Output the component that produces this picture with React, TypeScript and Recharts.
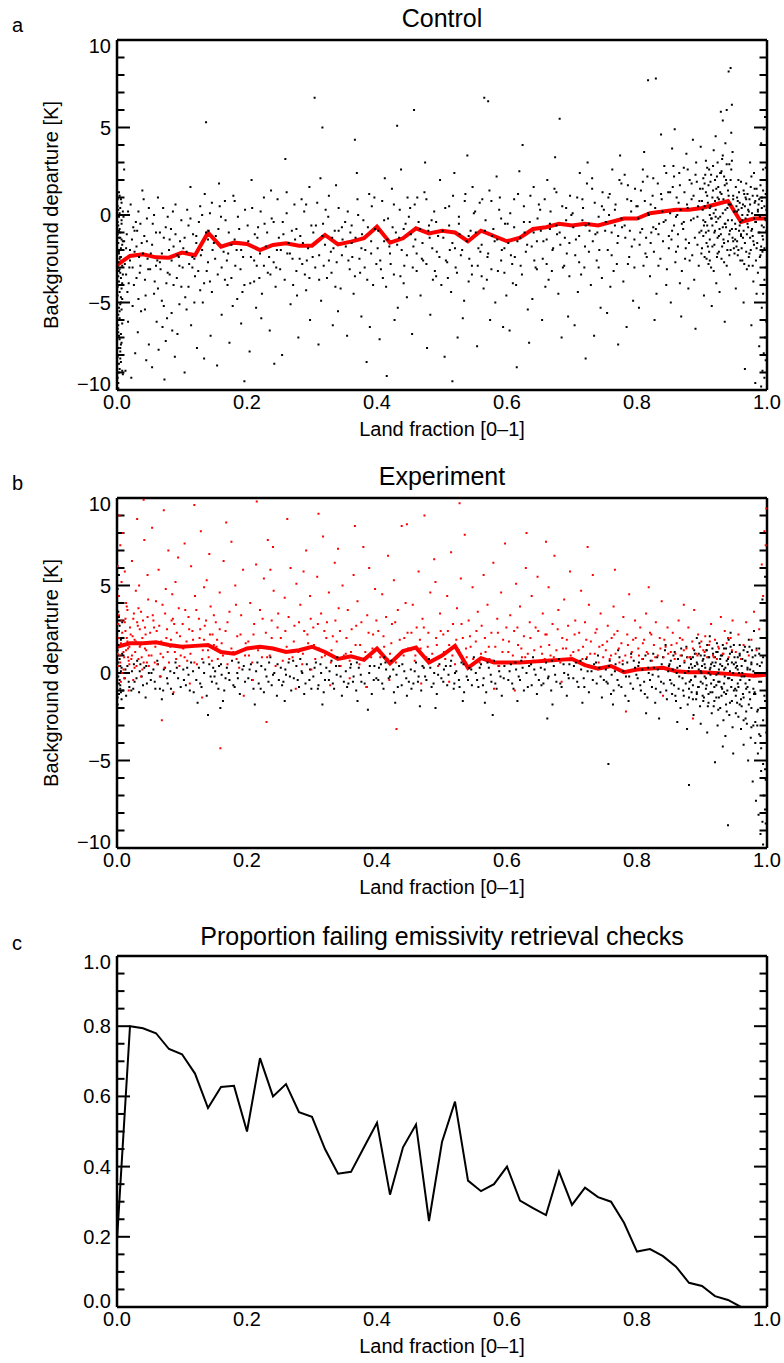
import React from "react";
import { ComposedChart, Scatter, Line, XAxis, YAxis, Label } from "recharts";

const FONT = "'Liberation Sans', Arial, Helvetica, sans-serif";

// land fraction bins (x) for the mean lines
const landBins = [0, 0.02, 0.04, 0.06, 0.08, 0.1, 0.12, 0.14, 0.16, 0.18, 0.2, 0.22, 0.24, 0.26, 0.28, 0.3, 0.32, 0.34, 0.36, 0.38, 0.4, 0.42, 0.44, 0.46, 0.48, 0.5, 0.52, 0.54, 0.56, 0.58, 0.6, 0.62, 0.64, 0.66, 0.68, 0.7, 0.72, 0.74, 0.76, 0.78, 0.8, 0.82, 0.84, 0.86, 0.88, 0.9, 0.92, 0.94, 0.96, 0.98, 1.0];

const controlMean = [-2.86, -2.34, -2.25, -2.42, -2.44, -2.15, -2.3, -1.01, -1.81, -1.58, -1.66, -2.0, -1.71, -1.62, -1.75, -1.75, -1.14, -1.68, -1.52, -1.33, -0.67, -1.58, -1.33, -0.76, -1.05, -0.9, -1.0, -1.5, -0.9, -1.2, -1.5, -1.3, -0.8, -0.7, -0.5, -0.6, -0.5, -0.6, -0.4, -0.2, -0.2, 0.1, 0.2, 0.3, 0.3, 0.4, 0.6, 0.8, -0.4, -0.2, -0.2];

const experimentMean = [1.5, 1.7, 1.7, 1.75, 1.6, 1.5, 1.55, 1.6, 1.2, 1.1, 1.4, 1.5, 1.4, 1.2, 1.3, 1.5, 1.2, 0.8, 0.95, 0.75, 1.4, 0.55, 1.25, 1.45, 0.6, 1.0, 1.55, 0.3, 0.85, 0.6, 0.6, 0.6, 0.65, 0.7, 0.75, 0.8, 0.45, 0.25, 0.4, 0.05, 0.2, 0.25, 0.3, 0.1, 0.05, 0.05, 0.0, -0.05, -0.1, -0.15, -0.1];

const failBins = [0, 0.02, 0.04, 0.06, 0.08, 0.1, 0.12, 0.14, 0.16, 0.18, 0.2, 0.22, 0.24, 0.26, 0.28, 0.3, 0.32, 0.34, 0.36, 0.38, 0.4, 0.42, 0.44, 0.46, 0.48, 0.5, 0.52, 0.54, 0.56, 0.58, 0.6, 0.62, 0.64, 0.66, 0.68, 0.7, 0.72, 0.74, 0.76, 0.78, 0.8, 0.82, 0.84, 0.86, 0.88, 0.9, 0.92, 0.94, 0.96];

const failFraction = [0.19, 0.8, 0.794, 0.78, 0.735, 0.72, 0.665, 0.567, 0.627, 0.63, 0.5, 0.709, 0.6, 0.635, 0.555, 0.542, 0.45, 0.38, 0.385, 0.455, 0.525, 0.32, 0.455, 0.52, 0.245, 0.47, 0.585, 0.36, 0.33, 0.35, 0.4, 0.303, 0.282, 0.262, 0.386, 0.291, 0.34, 0.313, 0.3, 0.24, 0.158, 0.165, 0.145, 0.115, 0.069, 0.06, 0.031, 0.02, 0.0];

// individual observations, control run (spread)
const controlDots: [number, number][] = [
  [0.002,-9.6],[0.004,-8.8],[0.001,-8.1],[0.006,-7.4],[0.003,-6.9],[0.008,-6.2],[0.002,-5.7],[0.005,-5.1],[0.001,-4.6],[0.007,-4.2],[0.003,-3.8],[0.009,-3.4],[0.004,-3.1],[0.002,-2.7],[0.006,-2.4],[0.001,-2.0],[0.008,-1.7],[0.003,-1.3],[0.005,-1.0],[0.002,-0.6],[0.007,-0.3],[0.004,0.1],[0.001,0.5],[0.006,0.9],[0.003,1.3],[0.009,-9.1],[0.005,-7.8],[0.001,-6.5],[0.007,-5.4],[0.004,-4.4],[0.002,-3.5],[0.008,-2.9],[0.006,-1.9],[0.003,-0.9],[0.010,-0.1],[0.005,0.4],[0.002,-9.9],[0.006,-8.4],[0.004,-7.1],[0.008,-6.0],[0.003,-2.2],[0.009,-1.5],[0.001,-0.4],[0.007,0.7],
  [0.012,-2.8],[0.015,-1.1],[0.018,-3.9],[0.021,0.6],[0.024,-5.2],[0.027,-2.1],[0.029,-0.4],[0.032,-6.7],[0.035,-3.3],[0.038,-1.6],[0.041,0.9],[0.044,-4.6],[0.047,-2.5],[0.049,-7.4],[0.013,-8.9],[0.017,-6.1],[0.022,-9.3],[0.026,-4.0],[0.031,-0.9],[0.036,-2.9],[0.039,1.4],[0.043,-3.7],[0.046,-0.2],[0.014,-1.9],[0.019,-3.0],[0.023,-1.4],[0.028,-7.9],[0.033,0.2],[0.037,-5.5],[0.042,-1.2],[0.048,-3.1],[0.016,-4.4],[0.025,-0.7],[0.034,-2.4],[0.045,-8.3],[0.011,2.6],[0.020,-2.6],[0.030,-3.6],
  [0.052,-2.2],[0.055,-0.5],[0.058,-3.8],[0.061,-6.1],[0.063,1.0],[0.066,-2.7],[0.069,-4.9],[0.072,-1.3],[0.075,-7.2],[0.078,-0.1],[0.081,-3.4],[0.084,-5.6],[0.087,-1.8],[0.090,0.6],[0.093,-6.8],[0.096,-2.9],[0.099,-4.1],[0.054,-8.7],[0.060,-1.0],[0.067,-3.1],[0.073,-9.4],[0.080,-2.0],[0.086,0.2],[0.092,-3.6],[0.097,-1.5],[0.057,-4.5],[0.064,-7.7],[0.071,0.4],[0.077,-5.9],[0.083,-0.8],[0.089,-8.1],[0.095,-2.4],[0.070,-6.4],[0.085,-6.6],[0.062,-2.6],[0.076,-3.9],
  [0.102,-1.9],[0.105,-4.7],[0.108,0.3],[0.111,-2.8],[0.114,-6.3],[0.117,-1.1],[0.120,-3.5],[0.123,-7.6],[0.126,-0.4],[0.129,-2.3],[0.132,-5.0],[0.135,1.2],[0.138,-3.2],[0.141,-0.9],[0.144,-6.9],[0.147,-2.0],[0.104,-9.0],[0.110,-0.6],[0.116,-3.0],[0.122,-1.6],[0.128,-4.3],[0.134,-8.2],[0.140,-1.4],[0.146,0.7],[0.107,-5.4],[0.119,-2.5],[0.131,0.0],[0.143,-3.8],[0.137,5.3],[0.113,1.6],
  [0.152,-1.2],[0.155,-3.4],[0.158,0.5],[0.161,-5.7],[0.164,-2.1],[0.167,-0.3],[0.170,-4.0],[0.173,-7.3],[0.176,-1.7],[0.179,1.1],[0.182,-2.9],[0.185,-4.8],[0.188,-0.8],[0.191,-6.2],[0.194,-2.4],[0.197,0.3],[0.154,-8.6],[0.160,-0.1],[0.166,-3.7],[0.172,-1.0],[0.178,-5.2],[0.184,-2.0],[0.190,-3.1],[0.196,-9.5],[0.157,1.8],[0.169,-2.6],[0.181,0.8],[0.193,-4.4],
  [0.202,-1.5],[0.205,-3.9],[0.208,0.4],[0.211,-2.6],[0.214,-5.3],[0.217,-0.7],[0.220,-2.2],[0.223,-4.5],[0.226,1.0],[0.229,-1.8],[0.232,-3.3],[0.235,-6.6],[0.238,-0.2],[0.241,-2.7],[0.244,-4.1],[0.247,0.9],[0.204,-7.8],[0.212,-1.1],[0.219,-3.6],[0.227,-0.5],[0.234,-2.4],[0.242,-8.5],[0.249,-1.3],[0.207,2.0],[0.222,-5.9],[0.237,1.4],[0.245,-3.0],[0.215,-2.9],
  [0.252,-2.0],[0.255,-0.4],[0.258,-3.7],[0.261,1.3],[0.264,-1.6],[0.267,-5.1],[0.270,-2.5],[0.273,0.6],[0.276,-3.2],[0.279,-7.0],[0.282,-1.2],[0.285,-2.8],[0.288,0.2],[0.291,-4.3],[0.294,-1.9],[0.297,-6.0],[0.254,-8.0],[0.262,-2.2],[0.269,-0.9],[0.277,-4.6],[0.284,0.9],[0.292,-2.6],[0.299,-0.6],[0.259,3.2],[0.274,-1.4],[0.289,-3.4],[0.296,1.6],
  [0.302,-1.0],[0.305,-3.0],[0.308,0.7],[0.311,-2.3],[0.314,-4.9],[0.317,-0.5],[0.320,-1.7],[0.323,-3.6],[0.326,1.1],[0.329,-2.1],[0.332,-6.3],[0.335,-0.9],[0.338,-2.7],[0.341,0.4],[0.344,-4.2],[0.347,-1.4],[0.304,6.7],[0.310,-7.4],[0.318,-2.9],[0.325,-0.1],[0.333,-1.9],[0.340,-5.5],[0.346,-0.7],[0.313,2.1],[0.330,-3.3],[0.337,1.7],[0.316,5.0],
  [0.352,-1.8],[0.355,0.2],[0.358,-3.1],[0.361,-0.6],[0.364,-4.5],[0.367,-1.3],[0.370,0.9],[0.373,-2.5],[0.376,-5.8],[0.379,-0.3],[0.382,-2.0],[0.385,-3.7],[0.388,1.2],[0.391,-1.5],[0.394,-4.0],[0.397,-0.8],[0.354,-6.9],[0.362,-2.4],[0.369,2.4],[0.377,-1.1],[0.384,-8.4],[0.392,0.5],[0.399,-2.8],[0.359,-1.0],[0.374,-3.3],[0.389,-6.4],[0.366,4.3],
  [0.402,-0.9],[0.405,-2.6],[0.408,0.8],[0.411,-1.5],[0.414,-4.1],[0.417,-0.2],[0.420,-2.2],[0.423,1.5],[0.426,-3.4],[0.429,-1.0],[0.432,-5.3],[0.435,0.3],[0.438,-2.0],[0.441,-3.9],[0.444,-0.5],[0.447,1.0],[0.404,-7.1],[0.412,2.1],[0.419,-1.8],[0.427,-6.0],[0.434,-1.3],[0.442,-2.9],[0.449,-0.1],[0.409,-3.6],[0.424,-0.7],[0.437,2.6],[0.446,-4.7],[0.431,5.1],[0.415,-9.2],
  [0.452,-1.1],[0.455,-3.0],[0.458,0.6],[0.461,-2.2],[0.464,-0.4],[0.467,-4.6],[0.470,-1.6],[0.473,1.3],[0.476,-2.8],[0.479,-0.9],[0.482,-5.7],[0.485,-1.9],[0.488,0.2],[0.491,-3.5],[0.494,-1.2],[0.497,2.0],[0.454,-6.8],[0.462,1.0],[0.469,-2.5],[0.477,-7.6],[0.484,-0.3],[0.492,-2.1],[0.499,-4.0],[0.459,-1.4],[0.474,3.0],[0.489,-3.2],[0.457,6.0],[0.480,-0.6],
  [0.502,-1.3],[0.505,0.4],[0.508,-2.7],[0.511,-0.6],[0.514,-4.4],[0.517,1.1],[0.520,-1.9],[0.523,-3.3],[0.526,-0.1],[0.529,-2.3],[0.532,-5.9],[0.535,0.8],[0.538,-1.5],[0.541,-3.8],[0.544,-0.9],[0.547,1.6],[0.504,-8.1],[0.512,-2.0],[0.519,2.4],[0.527,-1.1],[0.534,-4.9],[0.542,-2.5],[0.549,0.1],[0.509,-3.6],[0.524,-7.0],[0.539,3.4],[0.546,-2.9],[0.516,-9.5],
  [0.552,-1.0],[0.555,-2.9],[0.558,0.7],[0.561,-1.7],[0.564,-4.2],[0.567,-0.3],[0.570,-2.4],[0.573,1.4],[0.576,-3.1],[0.579,-0.8],[0.582,-5.0],[0.585,-1.4],[0.588,0.3],[0.591,-2.6],[0.594,-6.4],[0.597,-0.5],[0.554,-7.5],[0.562,0.9],[0.569,-3.7],[0.577,-1.2],[0.584,2.2],[0.592,-2.0],[0.599,-4.6],[0.559,-2.1],[0.574,-6.0],[0.589,1.0],[0.565,6.7],[0.571,6.5],[0.596,-3.3],
  [0.602,-1.6],[0.605,0.1],[0.608,-2.8],[0.611,-0.7],[0.614,-4.0],[0.617,1.2],[0.620,-1.3],[0.623,-3.4],[0.626,0.5],[0.629,-2.1],[0.632,-5.4],[0.635,-0.4],[0.638,-1.8],[0.641,1.6],[0.644,-3.0],[0.647,-0.2],[0.604,-6.6],[0.612,-2.4],[0.619,2.5],[0.627,-1.0],[0.634,-7.3],[0.642,-2.6],[0.649,0.6],[0.609,-3.9],[0.624,4.0],[0.639,-4.8],[0.646,-1.5],[0.615,-8.7],
  [0.652,-0.9],[0.655,-2.5],[0.658,0.9],[0.661,-1.4],[0.664,-3.7],[0.667,0.2],[0.670,-2.0],[0.673,1.5],[0.676,-0.6],[0.679,-4.5],[0.682,-1.7],[0.685,0.5],[0.688,-2.9],[0.691,-0.3],[0.694,-5.8],[0.697,1.1],[0.654,-6.0],[0.662,2.0],[0.669,-3.2],[0.677,-1.1],[0.684,-7.0],[0.692,-2.2],[0.699,0.0],[0.659,-4.1],[0.674,3.3],[0.689,-1.3],[0.696,-3.5],[0.666,-0.8],[0.681,5.5],
  [0.702,-0.7],[0.705,-2.3],[0.708,1.0],[0.711,-1.2],[0.714,-3.4],[0.717,0.4],[0.720,-1.8],[0.723,1.8],[0.726,-0.5],[0.729,-4.0],[0.732,-1.5],[0.735,0.7],[0.738,-2.6],[0.741,-0.1],[0.744,-5.3],[0.747,1.3],[0.704,-6.3],[0.712,2.4],[0.719,-3.0],[0.727,-0.9],[0.734,-6.9],[0.742,-2.0],[0.749,0.3],[0.709,-4.4],[0.724,3.0],[0.739,-1.0],[0.746,-3.6],[0.716,-0.3],[0.731,2.1],[0.721,-8.2],
  [0.752,-0.4],[0.755,-2.0],[0.758,1.2],[0.761,-1.0],[0.764,-3.2],[0.767,0.6],[0.770,-1.6],[0.773,2.0],[0.776,-0.2],[0.779,-3.8],[0.782,-1.3],[0.785,0.9],[0.788,-2.4],[0.791,0.2],[0.794,-4.9],[0.797,1.5],[0.754,-5.6],[0.762,2.6],[0.769,-2.8],[0.777,-0.7],[0.784,-6.4],[0.792,-1.8],[0.799,0.5],[0.759,-4.1],[0.774,3.4],[0.789,-0.9],[0.796,-3.0],[0.766,-0.6],[0.781,2.3],[0.771,-7.4],[0.786,1.7],[0.757,0.0],
  [0.802,-0.2],[0.804,-1.7],[0.806,1.4],[0.808,-0.8],[0.810,-2.9],[0.812,0.8],[0.814,-1.3],[0.816,2.2],[0.818,0.0],[0.820,-3.5],[0.822,-1.0],[0.824,1.1],[0.826,-2.1],[0.828,0.4],[0.830,-4.5],[0.832,1.8],[0.834,-0.5],[0.836,-2.5],[0.838,0.9],[0.840,-1.5],[0.842,2.8],[0.844,-0.3],[0.846,-3.1],[0.848,1.3],[0.803,-5.3],[0.809,2.6],[0.815,-2.4],[0.821,0.6],[0.827,-6.0],[0.833,-1.1],[0.839,0.2],[0.845,-4.0],[0.811,3.6],[0.825,-0.7],[0.837,4.6],[0.849,-1.9],[0.817,7.7],[0.829,7.8],
  [0.851,0.1],[0.853,-1.4],[0.855,1.6],[0.857,-0.6],[0.859,-2.7],[0.861,1.0],[0.863,-1.1],[0.865,2.4],[0.867,0.3],[0.869,-3.2],[0.871,-0.8],[0.873,1.3],[0.875,-1.9],[0.877,0.6],[0.879,-4.2],[0.881,2.0],[0.883,-0.3],[0.885,-2.3],[0.887,1.1],[0.889,-1.3],[0.891,3.0],[0.893,-0.1],[0.895,-2.9],[0.897,1.5],[0.899,-0.9],[0.852,-5.0],[0.856,2.8],[0.860,-2.1],[0.864,0.7],[0.868,-5.8],[0.872,-0.4],[0.876,3.5],[0.880,-1.6],[0.884,0.9],[0.888,-3.7],[0.892,1.9],[0.896,-1.0],[0.854,3.8],[0.866,-3.9],[0.878,2.6],[0.890,-6.5],[0.898,3.9],[0.862,0.0],[0.874,-2.5],[0.886,4.3],[0.894,0.5],[0.858,4.9],
  [0.901,0.3],[0.902,-1.2],[0.904,1.8],[0.905,-0.4],[0.907,-2.5],[0.908,1.1],[0.910,-0.9],[0.911,2.6],[0.913,0.5],[0.914,-3.0],[0.916,-0.6],[0.917,1.4],[0.919,-1.7],[0.920,0.8],[0.922,-3.9],[0.923,2.2],[0.925,-0.2],[0.926,-2.1],[0.928,1.3],[0.929,-1.1],[0.931,3.2],[0.932,0.1],[0.934,-2.7],[0.935,1.7],[0.937,-0.7],[0.938,2.9],[0.940,-1.5],[0.941,0.6],[0.943,-3.4],[0.944,2.0],[0.946,-0.3],[0.947,3.6],[0.949,-1.9],[0.903,-4.6],[0.906,3.1],[0.909,-1.8],[0.912,0.0],[0.915,-5.2],[0.918,3.7],[0.921,-0.1],[0.924,1.0],[0.927,-4.4],[0.930,2.5],[0.933,-1.4],[0.936,4.1],[0.939,0.4],[0.942,-2.3],[0.945,4.7],[0.948,0.9],[0.932,5.4],[0.938,6.0],[0.941,8.2],[0.944,8.4],[0.929,5.9],[0.946,6.3],[0.921,4.5],[0.935,-6.1],[0.912,-2.6],[0.924,-1.3],
  [0.951,-0.5],[0.953,-1.8],[0.955,0.8],[0.957,-0.9],[0.959,-2.6],[0.961,0.4],[0.963,-1.3],[0.965,1.2],[0.967,-0.2],[0.969,-3.1],[0.971,-0.7],[0.973,0.9],[0.975,-2.0],[0.977,0.1],[0.979,-3.8],[0.981,1.5],[0.983,-0.4],[0.985,-1.6],[0.987,0.6],[0.989,-2.4],[0.952,-4.2],[0.956,2.0],[0.960,-1.1],[0.964,-5.0],[0.968,1.8],[0.972,-2.9],[0.976,-6.3],[0.980,2.4],[0.984,-4.5],[0.988,-7.5],[0.954,0.2],[0.962,-0.3],[0.970,0.0],[0.978,-1.2],[0.986,0.3],[0.966,-8.8],[0.974,3.0],[0.982,-9.6],
  [0.991,-9.8],[0.993,-8.9],[0.995,-7.9],[0.997,-7.0],[0.999,-6.1],[0.992,-5.3],[0.994,-4.5],[0.996,-3.7],[0.998,-3.0],[1.0,-2.4],[0.991,-1.8],[0.993,-1.2],[0.995,-0.7],[0.997,-0.2],[0.999,0.3],[0.992,0.8],[0.994,1.4],[0.996,2.0],[0.998,2.7],[1.0,3.4],[0.991,4.1],[0.995,4.9],[0.997,5.6],[0.993,-2.1],[0.999,-0.9],[0.996,-9.3],[0.998,-8.3],[0.992,1.0],
];

// control run, observations in the dense core of the cloud
const controlCore: [number, number][] = [
  [0.011,-1.5],[0.014,-3.4],[0.017,0.2],[0.020,-2.0],[0.024,-3.0],[0.027,-0.9],[0.030,-1.8],[0.033,-4.8],[0.036,-0.5],[0.040,-2.2],[0.043,-5.4],[0.046,-1.5],[0.049,0.4],
  [0.051,-3.1],[0.054,-1.7],[0.057,0.0],[0.060,-2.9],[0.063,-4.2],[0.066,-1.0],[0.069,-2.2],[0.072,-5.2],[0.075,-0.7],[0.078,-3.3],[0.081,-1.4],[0.084,-2.6],[0.087,-4.0],[0.090,-1.1],[0.093,-2.3],[0.096,-5.1],[0.099,-0.3],
  [0.101,-3.0],[0.104,-1.3],[0.107,-2.1],[0.110,-4.1],[0.113,-0.2],[0.116,-2.4],[0.119,-5.0],[0.122,-1.2],[0.125,-3.2],[0.128,0.5],[0.131,-2.0],[0.134,-3.9],[0.137,-1.0],[0.140,-2.7],[0.143,0.1],[0.146,-4.4],[0.149,-1.6],
  [0.151,-2.5],[0.156,-0.8],[0.161,-3.0],[0.166,0.8],[0.171,-2.2],[0.176,-3.6],[0.181,-1.4],[0.186,-0.1],[0.191,-2.0],[0.196,-4.0],
  [0.201,-0.6],[0.206,-2.4],[0.211,-3.8],[0.216,-1.3],[0.221,0.2],[0.226,-2.9],[0.231,-1.0],[0.236,-3.4],[0.241,-0.4],[0.246,-2.0],
  [0.251,-3.1],[0.256,-1.1],[0.261,0.1],[0.266,-2.2],[0.271,-4.0],[0.276,-0.8],[0.281,-2.5],[0.286,-1.6],[0.291,0.6],[0.296,-3.6],
  [0.301,-2.4],[0.306,-0.6],[0.311,-3.7],[0.316,-1.2],[0.321,0.3],[0.326,-2.6],[0.331,-1.3],[0.336,-4.1],[0.341,-0.9],[0.346,-2.3],
  [0.351,-0.4],[0.356,-2.6],[0.361,-1.6],[0.366,-3.5],[0.371,0.0],[0.376,-1.9],[0.381,-3.0],[0.386,-0.7],[0.391,-2.2],[0.396,1.0],
  [0.401,-1.9],[0.406,-3.1],[0.411,-0.3],[0.416,-1.4],[0.421,-2.8],[0.426,0.6],[0.431,-1.7],[0.436,-3.5],[0.441,-0.8],[0.446,-2.3],
  [0.451,0.4],[0.456,-1.8],[0.461,-3.2],[0.466,-0.8],[0.471,-2.6],[0.476,0.9],[0.481,-1.3],[0.486,-3.7],[0.491,-0.4],[0.496,-2.4],
  [0.501,-0.9],[0.506,-2.6],[0.511,0.5],[0.516,-1.6],[0.521,-3.0],[0.526,-0.5],[0.531,-2.0],[0.536,1.2],[0.541,-1.2],[0.546,-3.4],
  [0.551,0.2],[0.556,-1.9],[0.561,-3.5],[0.566,-0.9],[0.571,-2.2],[0.576,0.8],[0.581,-1.5],[0.586,-3.2],[0.591,-0.2],[0.596,-1.9],
  [0.601,-0.5],[0.606,-2.3],[0.611,0.9],[0.616,-1.5],[0.621,-2.9],[0.626,-0.4],[0.631,-1.7],[0.636,1.1],[0.641,-1.0],[0.646,-3.1],
  [0.651,0.3],[0.656,-1.5],[0.661,-2.8],[0.666,-0.5],[0.671,-1.9],[0.676,1.3],[0.681,-1.0],[0.686,-3.0],[0.691,0.4],[0.696,-1.6],
  [0.701,0.1],[0.706,-1.4],[0.711,-2.7],[0.716,0.9],[0.721,-0.6],[0.726,-2.1],[0.731,1.5],[0.736,-1.1],[0.741,-3.0],[0.746,0.5],
  [0.751,-0.9],[0.756,1.0],[0.761,-2.3],[0.766,0.3],[0.771,-1.2],[0.776,1.8],[0.781,-0.6],[0.786,-2.8],[0.791,0.8],[0.796,-1.4],
  [0.801,0.5],[0.805,-1.0],[0.809,1.9],[0.813,-2.2],[0.817,0.1],[0.821,-1.6],[0.825,2.1],[0.829,-0.8],[0.833,-2.9],[0.837,1.2],[0.841,-0.4],[0.845,2.4],[0.849,-1.2],
  [0.851,1.3],[0.854,-0.9],[0.857,2.2],[0.860,-0.1],[0.863,-1.8],[0.866,1.7],[0.869,-0.5],[0.872,2.7],[0.875,-1.4],[0.878,0.4],[0.881,-2.6],[0.884,1.8],[0.887,-0.2],[0.890,2.3],[0.893,-1.7],[0.896,0.8],[0.899,-2.2],
  [0.901,1.5],[0.903,-0.6],[0.905,2.3],[0.907,-1.6],[0.909,0.7],[0.911,-2.1],[0.913,1.9],[0.915,-0.2],[0.917,2.8],[0.919,-1.0],[0.921,0.3],[0.923,-2.4],[0.925,1.6],[0.927,-0.8],[0.929,2.4],[0.931,-1.8],[0.933,0.9],[0.935,-0.5],[0.937,2.0],[0.939,-2.0],[0.941,1.1],[0.943,-0.9],[0.945,2.6],[0.947,-1.3],[0.949,0.2],
  [0.951,-1.4],[0.953,0.5],[0.955,-2.3],[0.957,1.3],[0.959,-0.4],[0.961,-1.9],[0.963,0.6],[0.965,-2.8],[0.967,1.0],[0.969,-1.1],[0.971,0.3],[0.973,-2.2],[0.975,1.6],[0.977,-0.8],[0.979,-1.5],[0.981,0.7],[0.983,-2.6],[0.985,1.1],[0.987,-1.0],[0.989,-0.1],
  [0.003,-5.3],[0.006,-3.6],[0.001,-1.1],[0.008,-4.8],[0.004,-2.5],[0.002,-7.6],[0.007,-1.4],[0.005,-3.3],[0.009,0.2],[0.003,-0.1],
];

// control run, the near-solid masses at the coast (x ~ 0) and over land (x > 0.9)
const controlBlob: [number, number][] = [
  [0.900,0.8],[0.900,-1.9],[0.902,-0.3],[0.902,2.1],[0.904,-2.4],[0.904,0.5],[0.906,1.3],[0.906,-1.0],[0.908,-0.6],[0.908,2.7],
  [0.910,1.7],[0.910,-2.8],[0.912,0.4],[0.912,-1.4],[0.914,2.3],[0.914,-0.2],[0.916,-1.8],[0.916,1.0],[0.918,0.1],[0.918,-3.2],
  [0.920,2.0],[0.920,-0.9],[0.922,-0.4],[0.922,1.5],[0.924,-2.2],[0.924,3.0],[0.926,0.9],[0.926,-1.2],[0.928,-0.1],[0.928,2.4],
  [0.930,1.2],[0.930,-2.5],[0.932,-0.7],[0.932,3.4],[0.934,2.2],[0.934,-1.6],[0.936,0.3],[0.936,-0.5],[0.938,-2.9],[0.938,1.8],
  [0.940,1.4],[0.940,-0.3],[0.942,-1.1],[0.942,2.9],[0.944,0.6],[0.944,-2.0],[0.946,3.1],[0.946,-0.8],[0.948,-1.5],[0.948,1.1],
  [0.950,0.2],[0.950,-2.2],[0.952,-0.8],[0.952,1.6],[0.954,1.0],[0.954,-1.5],[0.956,-2.0],[0.956,0.3],[0.958,0.7],[0.958,-0.6],
  [0.960,-1.2],[0.960,1.9],[0.962,0.0],[0.962,-2.6],[0.964,1.4],[0.964,-0.9],[0.966,-1.6],[0.966,0.5],[0.968,0.9],[0.968,-2.1],
  [0.970,-0.5],[0.970,1.2],[0.972,-2.4],[0.972,0.2],[0.974,0.6],[0.974,-1.3],[0.976,-0.9],[0.976,2.2],[0.978,1.1],[0.978,-2.9],
  [0.980,-0.2],[0.980,-1.7],[0.982,0.8],[0.982,-0.4],[0.984,-1.9],[0.984,1.5],[0.986,0.2],[0.986,-3.3],[0.988,-1.0],[0.988,0.9],
  [0.990,1.7],[0.990,-2.3],[0.992,-0.6],[0.992,0.4],[0.994,-1.4],[0.994,2.6],[0.996,0.5],[0.996,-1.9],[0.998,-0.3],[0.998,1.2],
  [0.001,-9.3],[0.003,-8.5],[0.005,-7.6],[0.002,-6.7],[0.004,-5.9],[0.006,-5.0],[0.001,-4.1],[0.003,-3.2],[0.005,-2.4],[0.002,-1.6],
  [0.004,-0.8],[0.006,0.0],[0.001,0.9],[0.003,-9.0],[0.005,-8.2],[0.007,-7.3],[0.002,-6.3],[0.004,-5.5],[0.006,-4.7],[0.008,-3.9],
  [0.001,-3.0],[0.003,-2.1],[0.005,-1.3],[0.007,-0.5],[0.002,0.3],[0.004,1.1],[0.006,-6.8],[0.008,-8.9],[0.000,-4.9],[0.000,-1.9],
];

// experiment run: observations passing the checks (black)
const experimentPass: [number, number][] = [
  [0.001,-1.8],[0.003,-1.2],[0.005,-0.7],[0.002,-0.2],[0.007,0.3],[0.004,0.8],[0.001,1.3],[0.006,1.9],[0.003,2.4],[0.008,2.9],[0.002,3.5],[0.005,4.0],[0.009,-1.0],[0.004,-0.4],[0.006,0.1],[0.002,0.6],[0.008,1.1],[0.001,4.8],[0.003,5.6],[0.005,-0.9],[0.007,-1.5],
  [0.012,-0.3],[0.016,0.4],[0.019,-0.8],[0.023,0.1],[0.027,-0.5],[0.031,0.7],[0.034,-1.1],[0.038,-0.2],[0.042,0.3],[0.046,-0.6],[0.049,0.0],[0.014,-1.3],[0.025,-0.9],[0.036,0.5],[0.044,-1.4],
  [0.052,-0.4],[0.056,0.2],[0.059,-0.9],[0.063,0.5],[0.067,-0.2],[0.071,-1.0],[0.074,0.3],[0.078,-0.6],[0.082,0.1],[0.086,-1.2],[0.090,0.6],[0.094,-0.3],[0.098,-0.8],[0.069,-1.5],[0.088,0.0],
  [0.102,0.2],[0.106,-0.7],[0.110,-0.1],[0.114,0.6],[0.118,-1.1],[0.122,-0.4],[0.126,0.3],[0.130,-0.8],[0.134,0.0],[0.138,-1.3],[0.142,0.5],[0.146,-0.5],[0.150,-0.2],[0.124,-1.7],[0.140,-2.4],
  [0.153,-0.6],[0.157,0.4],[0.161,-0.1],[0.165,-1.0],[0.169,0.3],[0.173,-0.4],[0.177,0.7],[0.181,-0.8],[0.185,0.0],[0.189,-1.2],[0.193,0.2],[0.197,-0.5],[0.163,-1.6],[0.187,0.6],[0.159,-2.0],
  [0.202,-0.3],[0.206,0.5],[0.210,-0.9],[0.214,0.1],[0.218,-0.6],[0.222,0.4],[0.226,-1.1],[0.230,-0.2],[0.234,0.6],[0.238,-0.7],[0.242,0.0],[0.246,-1.3],[0.212,-1.8],[0.236,0.9],[0.249,-0.4],
  [0.252,0.3],[0.256,-0.5],[0.260,-0.1],[0.264,0.6],[0.268,-1.0],[0.272,-0.3],[0.276,0.4],[0.280,-0.8],[0.284,0.1],[0.288,-1.2],[0.292,0.5],[0.296,-0.4],[0.258,-1.6],[0.282,0.8],[0.299,-0.9],
  [0.302,-0.2],[0.306,0.6],[0.310,-0.7],[0.314,0.0],[0.318,-1.1],[0.322,0.3],[0.326,-0.4],[0.330,0.7],[0.334,-0.9],[0.338,-0.1],[0.342,0.4],[0.346,-1.3],[0.316,-1.8],[0.339,0.9],[0.349,-0.5],
  [0.352,0.1],[0.356,-0.6],[0.360,0.5],[0.364,-0.2],[0.368,-1.0],[0.372,0.3],[0.376,-0.5],[0.380,0.8],[0.384,-0.8],[0.388,0.0],[0.392,-1.2],[0.396,0.4],[0.370,-1.6],[0.386,-2.1],[0.399,-0.3],
  [0.402,-0.4],[0.406,0.5],[0.410,-0.9],[0.414,0.2],[0.418,-0.3],[0.422,0.7],[0.426,-1.1],[0.430,-0.1],[0.434,0.4],[0.438,-0.7],[0.442,0.1],[0.446,-1.3],[0.428,-1.7],[0.411,0.9],[0.449,-0.5],
  [0.452,0.2],[0.456,-0.6],[0.460,0.6],[0.464,-0.2],[0.468,-1.0],[0.472,0.3],[0.476,-0.4],[0.480,0.8],[0.484,-0.8],[0.488,0.0],[0.492,-1.2],[0.496,0.5],[0.466,-1.9],[0.490,-2.0],[0.499,-0.3],
  [0.502,-0.5],[0.506,0.4],[0.510,-0.1],[0.514,0.7],[0.518,-0.9],[0.522,0.1],[0.526,-0.4],[0.530,0.6],[0.534,-1.1],[0.538,-0.2],[0.542,0.3],[0.546,-0.7],[0.532,-1.6],[0.549,0.9],[0.519,-0.6],
  [0.552,0.0],[0.556,-0.8],[0.560,0.5],[0.564,-0.3],[0.568,-1.1],[0.572,0.3],[0.576,-0.5],[0.580,0.7],[0.584,-0.9],[0.588,0.1],[0.592,-1.3],[0.596,0.4],[0.566,-1.7],[0.590,-0.2],[0.578,-2.4],
  [0.602,-0.4],[0.606,0.5],[0.610,-0.9],[0.614,0.2],[0.618,-0.2],[0.622,0.7],[0.626,-1.0],[0.630,0.0],[0.634,0.4],[0.638,-0.7],[0.642,0.2],[0.646,-1.2],[0.616,-1.6],[0.640,0.9],[0.649,-0.4],
  [0.652,0.3],[0.656,-0.6],[0.660,0.6],[0.664,-0.2],[0.668,-1.0],[0.672,0.4],[0.676,-0.5],[0.680,0.8],[0.684,-0.8],[0.688,0.0],[0.692,-1.3],[0.696,0.5],[0.670,-1.8],[0.694,-0.1],[0.662,-2.6],
  [0.702,-0.3],[0.706,0.6],[0.710,-0.8],[0.714,0.2],[0.718,-0.3],[0.722,0.8],[0.726,-1.1],[0.730,0.1],[0.734,0.5],[0.738,-0.6],[0.742,0.3],[0.746,-1.4],[0.716,-1.7],[0.740,1.0],[0.749,-0.4],
  [0.752,0.2],[0.755,-0.6],[0.758,0.7],[0.761,-0.1],[0.764,-1.0],[0.767,0.5],[0.770,-0.4],[0.773,0.9],[0.776,-0.8],[0.779,0.1],[0.782,-1.3],[0.785,0.6],[0.788,-0.2],[0.791,1.1],[0.794,-0.9],[0.797,0.3],[0.763,-1.8],[0.787,-1.6],[0.756,-5.2],[0.771,1.3],
  [0.801,-0.3],[0.803,0.6],[0.806,-1.0],[0.808,0.2],[0.811,-0.5],[0.813,1.0],[0.816,-1.4],[0.818,0.0],[0.821,0.7],[0.823,-0.8],[0.826,0.3],[0.828,-1.7],[0.831,0.9],[0.833,-0.2],[0.836,-1.1],[0.838,0.5],[0.841,-0.6],[0.843,1.3],[0.846,-1.5],[0.848,0.1],[0.814,-2.3],[0.834,-2.6],[0.844,1.6],[0.824,-0.1],
  [0.851,-0.4],[0.852,0.7],[0.854,-1.2],[0.855,0.2],[0.857,-0.7],[0.858,1.2],[0.860,-1.6],[0.861,0.0],[0.863,0.8],[0.864,-0.9],[0.866,0.4],[0.867,-2.0],[0.869,1.0],[0.870,-0.3],[0.872,-1.3],[0.873,0.6],[0.875,-0.6],[0.876,1.5],[0.878,-1.8],[0.879,0.1],[0.881,-0.5],[0.882,0.9],[0.884,-1.1],[0.885,0.3],[0.887,-2.4],[0.888,1.3],[0.890,-0.2],[0.891,-1.5],[0.893,0.5],[0.894,-0.8],[0.896,1.7],[0.897,-1.9],[0.899,0.0],[0.862,-2.8],[0.877,-3.2],[0.892,2.0],[0.880,-6.4],[0.898,-2.9],
  [0.901,-0.6],[0.902,0.8],[0.903,-1.4],[0.905,0.3],[0.906,-0.9],[0.907,1.3],[0.909,-1.9],[0.910,0.0],[0.911,0.9],[0.913,-1.1],[0.914,0.5],[0.915,-2.3],[0.917,1.1],[0.918,-0.4],[0.919,-1.6],[0.921,0.6],[0.922,-0.7],[0.923,1.7],[0.925,-2.1],[0.926,0.2],[0.927,-0.5],[0.929,1.0],[0.930,-1.3],[0.931,0.4],[0.933,-2.7],[0.934,1.4],[0.935,-0.2],[0.937,-1.8],[0.938,0.7],[0.939,-1.0],[0.941,1.9],[0.942,-2.4],[0.943,0.1],[0.945,-0.8],[0.946,1.2],[0.947,-3.1],[0.949,0.5],[0.908,-3.4],[0.924,-3.0],[0.936,-3.6],[0.944,2.3],[0.912,2.1],[0.932,-4.2],[0.948,-4.6],[0.920,-5.1],[0.940,-8.7],
  [0.951,-0.9],[0.952,0.6],[0.954,-1.7],[0.955,0.2],[0.956,-2.5],[0.958,1.0],[0.959,-0.4],[0.960,-3.2],[0.962,0.8],[0.963,-1.2],[0.964,-4.1],[0.966,1.5],[0.967,-0.6],[0.968,-2.2],[0.970,0.3],[0.971,-5.0],[0.972,1.9],[0.974,-1.5],[0.975,-3.7],[0.976,0.5],[0.978,-6.2],[0.979,-0.9],[0.980,2.4],[0.982,-2.8],[0.983,-7.3],[0.984,0.0],[0.986,-4.6],[0.987,-8.1],[0.988,1.1],[0.990,-9.2],[0.991,-5.6],[0.992,-2.0],[0.994,-9.8],[0.995,-7.0],[0.996,3.0],[0.998,-8.6],[0.999,-3.4],[1.0,-6.7],[0.993,4.2],[0.997,5.5],[0.953,-1.0],[0.957,0.0],[0.961,-1.9],[0.965,-0.2],[0.969,-2.9],[0.973,-0.4],[0.977,1.3],[0.981,-1.1],[0.985,-3.0],[0.989,0.4],
];

// experiment run, passing observations in the dense band near zero
const experimentPassCore: [number, number][] = [
  [0.013,0.2],[0.018,-0.5],[0.022,-1.0],[0.026,0.5],[0.030,-0.3],[0.035,0.1],[0.040,-0.7],[0.045,0.4],
  [0.053,0.0],[0.058,-0.5],[0.062,0.7],[0.066,-0.9],[0.072,0.2],[0.077,-0.3],[0.083,-0.9],[0.092,0.3],
  [0.103,-0.4],[0.108,0.3],[0.112,-1.0],[0.117,0.1],[0.128,-0.6],[0.133,0.6],[0.144,-0.2],[0.148,0.3],
  [0.151,0.1],[0.156,-0.9],[0.160,0.5],[0.167,-0.3],[0.172,0.0],[0.179,-0.7],[0.186,-0.3],[0.195,0.4],
  [0.204,0.2],[0.208,-0.4],[0.216,0.6],[0.221,-0.9],[0.228,0.2],[0.233,-0.5],[0.240,-0.1],[0.247,0.5],
  [0.254,-0.7],[0.259,0.2],[0.266,-0.2],[0.271,0.7],[0.278,-0.4],[0.285,0.0],[0.290,-0.6],[0.297,0.2],
  [0.304,0.3],[0.309,-0.9],[0.313,0.5],[0.320,-0.4],[0.327,0.1],[0.332,-0.6],[0.337,0.4],[0.344,-0.2],
  [0.354,-0.8],[0.359,0.3],[0.363,-0.5],[0.369,0.6],[0.375,-0.1],[0.381,-0.6],[0.389,0.4],[0.395,-0.4],
  [0.403,0.3],[0.408,-0.6],[0.413,0.6],[0.420,-0.2],[0.425,0.2],[0.432,-0.8],[0.439,0.5],[0.445,-0.3],
  [0.453,-0.9],[0.458,0.1],[0.463,-0.5],[0.470,0.4],[0.474,-0.2],[0.482,0.3],[0.487,-0.6],[0.494,-0.1],
  [0.503,0.2],[0.508,-0.7],[0.513,0.4],[0.520,0.0],[0.527,-0.8],[0.533,0.5],[0.540,-0.4],[0.545,0.2],
  [0.554,-0.4],[0.558,0.3],[0.563,-0.7],[0.570,0.6],[0.575,-0.1],[0.582,-0.6],[0.587,0.4],[0.595,-0.3],
  [0.604,0.1],[0.608,-0.6],[0.613,0.6],[0.620,-0.4],[0.624,0.3],[0.632,-0.8],[0.637,0.5],[0.644,-0.1],
  [0.653,-0.7],[0.658,0.2],[0.663,-0.3],[0.669,0.7],[0.674,-0.1],[0.682,-0.6],[0.687,0.5],[0.695,-0.3],
  [0.703,0.4],[0.708,-0.5],[0.713,0.7],[0.719,-0.8],[0.724,0.1],[0.732,-0.4],[0.737,0.6],[0.744,-0.2],
  [0.753,-0.5],[0.757,0.4],[0.760,-1.2],[0.766,0.1],[0.772,-0.7],[0.778,0.5],[0.783,-0.2],[0.790,-0.6],[0.795,0.7],[0.799,-0.1],
  [0.802,0.4],[0.805,-0.7],[0.809,0.8],[0.812,-1.2],[0.817,0.3],[0.820,-0.4],[0.825,1.1],[0.829,-0.9],[0.832,0.2],[0.837,-0.5],[0.840,0.9],[0.845,-1.0],[0.849,0.4],
  [0.850,0.5],[0.853,-0.6],[0.856,1.0],[0.859,-1.3],[0.862,0.3],[0.865,-0.2],[0.868,1.4],[0.871,-1.0],[0.874,0.0],[0.877,0.9],[0.880,-1.4],[0.883,0.5],[0.886,-0.7],[0.889,1.1],[0.892,-1.1],[0.895,0.2],[0.898,1.0],
  [0.900,0.4],[0.902,-1.6],[0.904,1.0],[0.906,-0.3],[0.908,1.6],[0.910,-1.2],[0.912,0.2],[0.914,-0.6],[0.916,1.4],[0.918,-1.9],[0.920,0.9],[0.922,-0.1],[0.924,1.2],[0.926,-1.4],[0.928,0.5],[0.930,-0.8],[0.932,1.6],[0.934,-1.1],[0.936,0.3],[0.938,-2.2],[0.940,0.8],[0.942,-0.3],[0.944,1.5],[0.946,-1.6],[0.948,0.0],
  [0.950,0.9],[0.952,-1.3],[0.954,0.4],[0.956,-0.8],[0.958,1.6],[0.960,-1.5],[0.962,0.0],[0.964,-2.7],[0.966,0.7],[0.968,-0.9],[0.970,1.2],[0.972,-1.8],[0.974,0.2],[0.976,-3.1],[0.978,0.9],[0.980,-1.2],[0.982,-4.0],[0.984,1.4],[0.986,-2.1],[0.988,-0.5],[0.990,-3.6],[0.992,0.6],[0.994,-5.2],[0.996,-1.3],[0.998,-6.1],[1.0,-2.9],[1.0,-9.5],[0.997,-7.8],[0.993,-8.5],
];

// experiment run, passing observations in the near-solid mass over land and at the coast
const experimentPassBlob: [number, number][] = [
  [0.880,0.3],[0.880,-0.9],[0.883,-0.4],[0.883,0.8],[0.886,0.9],[0.886,-1.5],[0.889,-0.2],[0.889,0.4],[0.892,0.6],[0.892,-1.2],
  [0.895,-0.8],[0.895,1.1],[0.898,0.1],[0.898,-0.5],[0.901,-1.3],[0.901,0.7],[0.904,0.5],[0.904,-0.2],[0.907,-0.7],[0.907,1.3],
  [0.910,0.9],[0.910,-1.7],[0.913,-0.1],[0.913,0.3],[0.916,-1.1],[0.916,0.6],[0.919,0.4],[0.919,-0.8],[0.922,1.2],[0.922,-1.4],
  [0.925,-0.5],[0.925,0.0],[0.928,0.8],[0.928,-2.0],[0.931,-0.9],[0.931,1.0],[0.934,0.2],[0.934,-0.6],[0.937,1.4],[0.937,-1.2],
  [0.940,-0.3],[0.940,0.5],[0.943,-1.7],[0.943,1.1],[0.946,0.6],[0.946,-0.4],[0.949,-1.0],[0.949,1.6],[0.952,0.3],[0.952,-2.3],
  [0.955,-0.6],[0.955,0.9],[0.958,1.1],[0.958,-1.8],[0.961,-0.2],[0.961,0.4],[0.964,-1.4],[0.964,1.3],[0.967,0.7],[0.967,-2.6],
  [0.970,-0.8],[0.970,0.2],[0.973,1.5],[0.973,-1.1],[0.976,-2.0],[0.976,0.6],[0.979,0.1],[0.979,-3.0],[0.982,-1.2],[0.982,1.0],
  [0.985,0.5],[0.985,-2.2],[0.988,-3.5],[0.988,1.4],[0.991,-0.5],[0.991,-4.3],[0.994,0.9],[0.994,-2.7],[0.997,-1.6],[0.997,-5.5],
  [1.0,0.3],[1.0,-3.9],
  [0.001,-1.4],[0.003,-0.6],[0.005,0.4],[0.002,1.6],[0.004,2.7],[0.006,-1.1],[0.001,0.0],[0.003,3.2],[0.000,1.0],[0.000,-0.3],
];

// experiment run: observations failing the emissivity checks (red)
const experimentFail: [number, number][] = [
  [0.002,0.4],[0.004,1.0],[0.006,1.7],[0.008,2.3],[0.010,0.2],[0.012,2.9],[0.014,1.3],[0.016,3.6],[0.018,0.7],[0.003,4.4],[0.007,5.2],[0.011,-0.3],[0.015,2.0],[0.019,1.5],[0.001,6.1],[0.005,7.3],[0.009,8.0],[0.013,3.1],[0.017,0.9],[0.020,2.6],[0.002,2.8],[0.006,-0.5],[0.010,1.2],[0.014,4.0],[0.018,-1.0],[0.004,9.0],[0.008,0.0],[0.012,5.8],[0.016,1.8],[0.003,3.3],
  [0.022,0.8],[0.024,2.1],[0.026,3.4],[0.028,1.2],[0.030,0.4],[0.032,2.7],[0.034,5.0],[0.036,1.6],[0.038,0.9],[0.040,3.0],[0.042,7.6],[0.044,2.2],[0.046,0.6],[0.048,4.2],[0.023,6.4],[0.027,1.9],[0.031,8.8],[0.035,2.5],[0.039,0.2],[0.043,1.4],[0.047,5.6],[0.025,-0.4],[0.033,3.7],[0.041,9.9],[0.049,1.0],[0.029,4.7],[0.037,-0.2],
  [0.052,1.7],[0.055,3.3],[0.058,0.6],[0.061,2.4],[0.064,5.9],[0.067,1.1],[0.070,3.9],[0.073,0.3],[0.076,2.0],[0.079,7.0],[0.082,1.5],[0.085,4.5],[0.088,2.8],[0.091,0.8],[0.094,6.6],[0.097,2.1],[0.054,8.3],[0.060,4.1],[0.066,-0.2],[0.072,9.3],[0.078,1.2],[0.084,3.0],[0.090,5.2],[0.096,0.4],[0.069,-2.7],[0.057,2.6],[0.075,4.8],[0.087,-1.1],
  [0.102,1.4],[0.105,3.6],[0.108,0.7],[0.111,2.5],[0.114,6.1],[0.117,1.9],[0.120,4.4],[0.123,0.5],[0.126,3.1],[0.129,8.1],[0.132,1.3],[0.135,2.7],[0.138,5.3],[0.141,0.9],[0.144,3.8],[0.147,2.2],[0.104,7.4],[0.112,-0.6],[0.119,9.6],[0.127,2.0],[0.134,4.9],[0.142,6.8],[0.149,1.6],[0.131,-1.4],
  [0.152,2.9],[0.155,0.8],[0.158,4.6],[0.161,1.7],[0.164,6.4],[0.167,2.4],[0.170,0.5],[0.173,3.5],[0.176,7.5],[0.179,1.2],[0.182,5.0],[0.185,2.1],[0.188,0.3],[0.191,3.3],[0.194,5.9],[0.197,1.0],[0.159,-4.3],[0.168,8.6],[0.183,3.9],[0.195,-1.3],[0.154,1.9],
  [0.202,1.8],[0.205,4.0],[0.208,0.6],[0.211,2.8],[0.214,6.2],[0.217,1.3],[0.220,3.6],[0.223,0.9],[0.226,5.4],[0.229,2.3],[0.232,7.6],[0.235,1.0],[0.238,3.0],[0.241,4.7],[0.244,0.4],[0.247,2.6],[0.215,9.8],[0.230,-2.8],[0.240,7.2],[0.209,-0.4],[0.236,5.9],
  [0.252,2.0],[0.255,0.7],[0.258,4.3],[0.261,1.5],[0.264,3.2],[0.267,6.0],[0.270,0.9],[0.273,2.7],[0.276,5.1],[0.279,1.2],[0.282,3.9],[0.285,0.5],[0.288,2.4],[0.291,7.0],[0.294,1.7],[0.297,4.4],[0.262,8.8],[0.275,-0.9],[0.287,5.8],[0.299,0.2],
  [0.302,2.6],[0.305,0.8],[0.308,5.5],[0.311,1.4],[0.314,3.4],[0.317,7.8],[0.320,1.0],[0.323,2.9],[0.326,4.6],[0.329,0.6],[0.332,2.1],[0.335,6.3],[0.338,1.8],[0.341,3.7],[0.344,0.4],[0.347,5.0],[0.310,9.1],[0.328,-0.7],[0.340,7.1],[0.319,2.4],
  [0.352,1.1],[0.355,3.6],[0.358,0.7],[0.361,2.5],[0.364,5.6],[0.367,1.6],[0.370,4.1],[0.373,0.5],[0.376,2.9],[0.379,7.2],[0.382,1.2],[0.385,3.3],[0.388,6.0],[0.391,0.9],[0.394,2.2],[0.397,4.8],[0.366,8.4],[0.384,-0.8],[0.358,-0.3],
  [0.402,2.4],[0.405,0.9],[0.408,4.5],[0.411,1.5],[0.414,3.2],[0.417,6.7],[0.420,1.1],[0.423,2.8],[0.426,5.3],[0.429,0.6],[0.432,3.6],[0.435,1.9],[0.438,8.4],[0.441,1.0],[0.444,4.0],[0.447,2.3],[0.446,8.5],[0.430,-3.2],[0.419,-0.4],
  [0.452,1.3],[0.455,3.9],[0.458,0.7],[0.461,2.6],[0.464,5.8],[0.467,1.4],[0.470,3.1],[0.473,9.0],[0.476,0.9],[0.479,2.3],[0.482,4.6],[0.485,1.1],[0.488,6.5],[0.491,2.0],[0.494,0.4],[0.497,3.4],[0.468,-0.6],[0.490,5.2],
  [0.502,2.2],[0.505,0.8],[0.508,4.4],[0.511,1.6],[0.514,6.9],[0.517,2.8],[0.520,0.5],[0.523,3.7],[0.526,1.3],[0.529,5.4],[0.532,2.0],[0.535,7.9],[0.538,0.9],[0.541,3.0],[0.544,1.5],[0.547,4.9],[0.527,9.7],[0.511,-0.5],
  [0.552,1.8],[0.555,3.5],[0.558,0.6],[0.561,2.7],[0.564,5.6],[0.567,1.2],[0.570,3.9],[0.573,0.8],[0.576,2.3],[0.579,6.3],[0.582,1.5],[0.585,3.1],[0.588,0.4],[0.591,4.6],[0.594,1.9],[0.597,7.4],[0.580,-0.9],
  [0.602,1.2],[0.605,3.3],[0.608,0.6],[0.611,2.4],[0.614,5.1],[0.617,1.6],[0.620,3.8],[0.623,0.9],[0.626,2.1],[0.629,6.0],[0.632,1.1],[0.635,2.9],[0.638,4.4],[0.641,0.7],[0.644,2.6],[0.647,5.5],[0.630,8.0],[0.612,-1.0],
  [0.652,1.5],[0.655,3.4],[0.658,0.8],[0.661,2.2],[0.664,4.9],[0.667,1.0],[0.670,2.8],[0.673,6.7],[0.676,1.3],[0.679,3.6],[0.682,0.6],[0.685,2.0],[0.688,4.2],[0.691,1.4],[0.694,2.7],[0.697,5.8],[0.660,7.5],[0.684,-0.5],
  [0.702,1.2],[0.705,3.0],[0.708,0.7],[0.711,2.3],[0.714,4.7],[0.717,1.5],[0.720,2.9],[0.723,0.9],[0.726,3.9],[0.729,1.8],[0.732,5.6],[0.735,1.1],[0.738,2.5],[0.741,0.6],[0.744,3.4],[0.747,1.6],[0.724,7.2],
  [0.752,1.3],[0.755,2.7],[0.758,0.8],[0.761,2.0],[0.764,3.8],[0.767,1.1],[0.770,2.4],[0.773,0.6],[0.776,1.7],[0.779,3.2],[0.782,1.0],[0.785,2.2],[0.788,4.5],[0.791,0.9],[0.794,1.9],[0.797,3.0],[0.766,5.9],[0.783,-2.2],
  [0.802,1.4],[0.805,2.6],[0.808,0.8],[0.811,1.9],[0.814,3.4],[0.817,1.1],[0.820,2.3],[0.823,0.7],[0.826,1.6],[0.829,2.9],[0.832,1.0],[0.835,2.0],[0.838,4.1],[0.841,0.9],[0.844,1.5],[0.847,2.6],[0.818,4.9],[0.840,-1.3],
  [0.852,1.2],[0.855,2.3],[0.858,0.8],[0.861,1.7],[0.864,3.0],[0.867,1.0],[0.870,1.9],[0.873,0.7],[0.876,1.4],[0.879,2.6],[0.882,0.9],[0.885,1.8],[0.888,3.6],[0.891,1.1],[0.894,2.2],[0.897,1.5],[0.872,3.9],[0.886,-2.6],
  [0.902,1.3],[0.905,2.1],[0.908,0.9],[0.911,1.6],[0.914,2.8],[0.917,1.0],[0.920,1.9],[0.923,0.8],[0.926,1.4],[0.929,3.2],[0.932,1.1],[0.935,2.4],[0.938,1.7],[0.941,0.9],[0.944,2.0],[0.947,3.0],
  [0.952,1.2],[0.956,2.2],[0.960,0.8],[0.964,1.6],[0.968,2.9],[0.972,1.0],[0.976,1.9],[0.980,3.5],[0.984,1.3],[0.988,2.5],[0.992,6.2],[0.996,8.1],[0.999,9.4],[0.994,4.4],[0.998,7.3],
];

// experiment run, failing observations in the dense part just above zero
const experimentFailCore: [number, number][] = [
  [0.001,1.1],[0.003,2.0],[0.005,0.6],[0.007,3.0],[0.009,1.6],[0.011,0.9],[0.013,2.4],[0.015,3.8],[0.017,1.4],[0.019,0.5],[0.021,2.2],[0.023,1.0],[0.025,3.1],[0.027,0.3],[0.029,1.8],[0.031,2.9],[0.033,0.8],[0.035,1.5],[0.037,3.5],[0.039,2.0],[0.041,0.6],[0.043,2.6],[0.045,1.3],[0.047,3.2],[0.049,0.4],
  [0.051,2.3],[0.053,1.0],[0.056,3.0],[0.059,1.5],[0.062,0.5],[0.065,2.7],[0.068,1.8],[0.071,0.9],[0.074,3.4],[0.077,2.5],[0.080,0.6],[0.083,1.9],[0.086,3.1],[0.089,1.2],[0.092,2.3],[0.095,3.7],[0.098,1.0],
  [0.101,2.8],[0.104,0.9],[0.107,1.8],[0.110,3.2],[0.113,1.1],[0.116,2.4],[0.119,0.6],[0.122,3.6],[0.125,1.6],[0.128,2.5],[0.131,0.8],[0.134,1.9],[0.137,3.0],[0.140,1.3],[0.143,2.2],[0.146,0.7],[0.149,3.3],
  [0.153,1.5],[0.158,2.5],[0.163,1.0],[0.170,2.9],[0.176,1.4],[0.184,0.8],[0.190,2.2],[0.198,1.7],
  [0.203,1.0],[0.210,2.2],[0.218,1.5],[0.224,3.1],[0.231,0.9],[0.238,2.0],[0.243,1.4],[0.248,3.4],
  [0.253,1.3],[0.259,2.4],[0.265,0.8],[0.272,1.8],[0.280,2.9],[0.286,1.1],[0.293,2.2],[0.298,3.1],
  [0.303,1.6],[0.309,2.8],[0.315,0.9],[0.322,2.0],[0.330,1.3],[0.336,3.0],[0.343,2.4],[0.349,1.0],
  [0.353,2.0],[0.360,1.2],[0.368,2.7],[0.374,1.6],[0.381,0.8],[0.387,2.3],[0.393,1.4],[0.399,3.0],
  [0.404,1.3],[0.410,2.1],[0.416,0.8],[0.422,1.7],[0.428,2.9],[0.436,1.1],[0.442,2.0],[0.448,1.4],
  [0.453,2.3],[0.459,1.0],[0.466,1.9],[0.472,2.6],[0.478,1.5],[0.485,0.7],[0.492,1.6],[0.498,2.4],
  [0.503,1.2],[0.509,2.4],[0.516,1.0],[0.522,1.9],[0.530,2.8],[0.537,1.4],[0.543,2.1],[0.548,0.8],
  [0.553,2.4],[0.560,1.1],[0.566,2.0],[0.572,1.5],[0.578,0.7],[0.586,2.3],[0.593,1.2],[0.599,2.6],
  [0.603,1.8],[0.609,1.0],[0.616,2.6],[0.622,1.4],[0.628,0.9],[0.636,2.0],[0.642,1.3],[0.648,2.4],
  [0.654,1.1],[0.659,2.2],[0.665,1.6],[0.672,0.9],[0.678,2.5],[0.686,1.4],[0.692,1.9],[0.698,1.0],
  [0.704,2.2],[0.710,1.3],[0.716,0.8],[0.722,1.9],[0.728,1.1],[0.736,2.3],[0.742,1.5],[0.748,0.9],
  [0.754,1.8],[0.760,1.0],[0.765,2.2],[0.772,1.4],[0.778,0.7],[0.786,1.6],[0.792,1.2],[0.798,2.0],
  [0.803,1.0],[0.809,1.7],[0.815,1.2],[0.822,2.2],[0.828,0.9],[0.836,1.4],[0.842,1.9],[0.848,1.1],
  [0.853,1.6],[0.859,1.1],[0.866,2.0],[0.872,1.3],[0.878,0.9],[0.886,1.4],[0.893,1.0],[0.899,1.8],
  [0.904,1.2],[0.912,1.8],[0.918,0.9],[0.925,1.5],[0.933,1.1],[0.940,2.0],[0.946,1.3],
];

const xMajor = [0, 0.2, 0.4, 0.6, 0.8, 1.0];
const xMinor = [0.05, 0.1, 0.15, 0.25, 0.3, 0.35, 0.45, 0.5, 0.55, 0.65, 0.7, 0.75, 0.85, 0.9, 0.95];
const depMajor = [-10, -5, 0, 5, 10];
const depMinor = [-9, -8, -7, -6, -4, -3, -2, -1, 1, 2, 3, 4, 6, 7, 8, 9];
const fracMajor = [0, 0.2, 0.4, 0.6, 0.8, 1.0];
const fracMinor = [0.05, 0.1, 0.15, 0.25, 0.3, 0.35, 0.45, 0.5, 0.55, 0.65, 0.7, 0.75, 0.85, 0.9, 0.95];

const toXY = (xs: number[], ys: number[]) => xs.map((x, i) => ({ x, y: ys[i] }));
const toPts = (...sets: [number, number][][]) => sets.flat().map(([x, y]) => ({ x, y }));

const controlLine = toXY(landBins, controlMean);
const experimentLine = toXY(landBins, experimentMean);
const failLine = toXY(failBins, failFraction);

const AX = { stroke: "#000", strokeWidth: 2.5 };
const TL = { stroke: "#000", strokeWidth: 2 };
const tickFont = { fontSize: 20, fill: "#000", fontFamily: FONT };
const noLabel = () => <g />;
const fmtDep = (v: number) => (v < 0 ? `\u2212${-v}` : `${v}`);
const fmt1 = (v: number) => v.toFixed(1);

function dot(color: string) {
  return (p: any) => <rect x={p.cx - 1} y={p.cy - 1} width={2} height={2} fill={color} />;
}

// y tick labels: the end labels sit inside the axis range, as in the original plot
function yTick(fmt: (v: number) => string, count: number) {
  return (p: any) => {
    const shift = p.index === 0 ? -6 : p.index === count - 1 ? 6 : 0;
    return (
      <text x={p.x} y={p.y + shift} textAnchor="end" dominantBaseline="central" fontSize={20} fontFamily={FONT} fill="#000">
        {fmt(p.payload.value)}
      </text>
    );
  };
}

// inward tick marks on all four sides, major and minor
function frameAxes(yDomain: number[], yMajor: number[], yMinor: number[]) {
  const common = { type: "number" as const, allowDataOverflow: true, interval: 0, tick: noLabel, mirror: true, tickLine: TL };
  return [
    <XAxis key="tM" xAxisId="tM" orientation="top" domain={[0, 1]} ticks={xMajor} tickSize={7} height={1} axisLine={AX} {...common} />,
    <XAxis key="tm" xAxisId="tm" orientation="top" domain={[0, 1]} ticks={xMinor} tickSize={3.5} height={1} axisLine={false} {...common} />,
    <XAxis key="bM" xAxisId="bM" orientation="bottom" domain={[0, 1]} ticks={xMajor} tickSize={7} height={1} axisLine={false} {...common} />,
    <XAxis key="bm" xAxisId="bm" orientation="bottom" domain={[0, 1]} ticks={xMinor} tickSize={3.5} height={1} axisLine={false} {...common} />,
    <YAxis key="lM" yAxisId="lM" orientation="left" domain={yDomain} ticks={yMajor} tickSize={13} width={1} axisLine={false} {...common} />,
    <YAxis key="lm" yAxisId="lm" orientation="left" domain={yDomain} ticks={yMinor} tickSize={6.5} width={1} axisLine={false} {...common} />,
    <YAxis key="rM" yAxisId="rM" orientation="right" domain={yDomain} ticks={yMajor} tickSize={13} width={1} axisLine={AX} {...common} />,
    <YAxis key="rm" yAxisId="rm" orientation="right" domain={yDomain} ticks={yMinor} tickSize={6.5} width={1} axisLine={false} {...common} />,
  ];
}

function yTitle(text: string) {
  return (props: any) => {
    const vb = props.viewBox;
    const cx = vb.x + 51;
    const cy = vb.y + vb.height / 2;
    return (
      <text x={cx} y={cy} transform={`rotate(-90 ${cx} ${cy})`} textAnchor="middle" dominantBaseline="central" fontSize={20} fontFamily={FONT} fill="#000">
        {text}
      </text>
    );
  };
}

function mainAxes(yDomain: number[], yMajor: number[], yFmt: (v: number) => string, yLabel?: string) {
  return [
    <XAxis key="x" xAxisId="main" dataKey="x" type="number" domain={[0, 1]} allowDataOverflow ticks={xMajor} interval={0}
      tickFormatter={fmt1} tick={tickFont} tickLine={false} tickSize={0} tickMargin={5} height={60} axisLine={AX}>
      <Label value="Land fraction [0–1]" position="insideBottom" offset={14} style={{ fontSize: 20, fill: "#000", fontFamily: FONT }} />
    </XAxis>,
    <YAxis key="y" yAxisId="main" dataKey="y" type="number" domain={yDomain} allowDataOverflow ticks={yMajor} interval={0}
      tick={yTick(yFmt, yMajor.length)} tickLine={false} tickSize={0} tickMargin={6} width={117} axisLine={AX}>
      {yLabel ? <Label content={yTitle(yLabel)} /> : null}
    </YAxis>,
  ];
}

const titleStyle: React.CSSProperties = { position: "absolute", left: 117, width: 650, textAlign: "center", fontSize: 25, lineHeight: "30px", fontFamily: FONT, color: "#000" };
const tagStyle: React.CSSProperties = { position: "absolute", left: 12, fontSize: 20, lineHeight: "24px", fontFamily: FONT, color: "#000" };

function Heading({ top, title, tag }: { top: number; title: string; tag: string }) {
  return (
    <>
      <div style={{ ...tagStyle, top: top + 13 }}>{tag}</div>
      <div style={{ ...titleStyle, top: top + 3 }}>{title}</div>
    </>
  );
}

const MARGIN = { top: 40, right: 17, bottom: 0, left: 0 };

export default function App() {
  return (
    <div style={{ position: "absolute", left: 0, top: 0, width: 784, height: 1363, background: "#fff" }}>
      <div style={{ position: "absolute", left: 0, top: 0 }}>
        <ComposedChart width={784} height={450} margin={MARGIN}>
          {mainAxes([-10, 10], depMajor, fmtDep, "Background departure [K]")}
          {frameAxes([-10, 10], depMajor, depMinor)}
          <Scatter data={toPts(controlDots, controlCore, controlBlob)} xAxisId="main" yAxisId="main" shape={dot("#000")} isAnimationActive={false} />
          <Line data={controlLine} dataKey="y" xAxisId="main" yAxisId="main" type="linear" stroke="#ff0000" strokeWidth={4} dot={false} activeDot={false} isAnimationActive={false} />
        </ComposedChart>
      </div>
      <Heading top={0} title="Control" tag="a" />

      <div style={{ position: "absolute", left: 0, top: 458 }}>
        <ComposedChart width={784} height={450} margin={MARGIN}>
          {mainAxes([-10, 10], depMajor, fmtDep, "Background departure [K]")}
          {frameAxes([-10, 10], depMajor, depMinor)}
          <Scatter data={toPts(experimentPass, experimentPassCore, experimentPassBlob)} xAxisId="main" yAxisId="main" shape={dot("#000")} isAnimationActive={false} />
          <Scatter data={toPts(experimentFail, experimentFailCore)} xAxisId="main" yAxisId="main" shape={dot("#ff0000")} isAnimationActive={false} />
          <Line data={experimentLine} dataKey="y" xAxisId="main" yAxisId="main" type="linear" stroke="#ff0000" strokeWidth={4} dot={false} activeDot={false} isAnimationActive={false} />
        </ComposedChart>
      </div>
      <Heading top={458} title="Experiment" tag="b" />

      <div style={{ position: "absolute", left: 0, top: 916 }}>
        <ComposedChart width={784} height={451} margin={MARGIN}>
          {mainAxes([0, 1], fracMajor, fmt1)}
          {frameAxes([0, 1], fracMajor, fracMinor)}
          <Line data={failLine} dataKey="y" xAxisId="main" yAxisId="main" type="linear" stroke="#000" strokeWidth={2} dot={false} activeDot={false} isAnimationActive={false} />
        </ComposedChart>
      </div>
      <Heading top={918} title="Proportion failing emissivity retrieval checks" tag="c" />
    </div>
  );
}
